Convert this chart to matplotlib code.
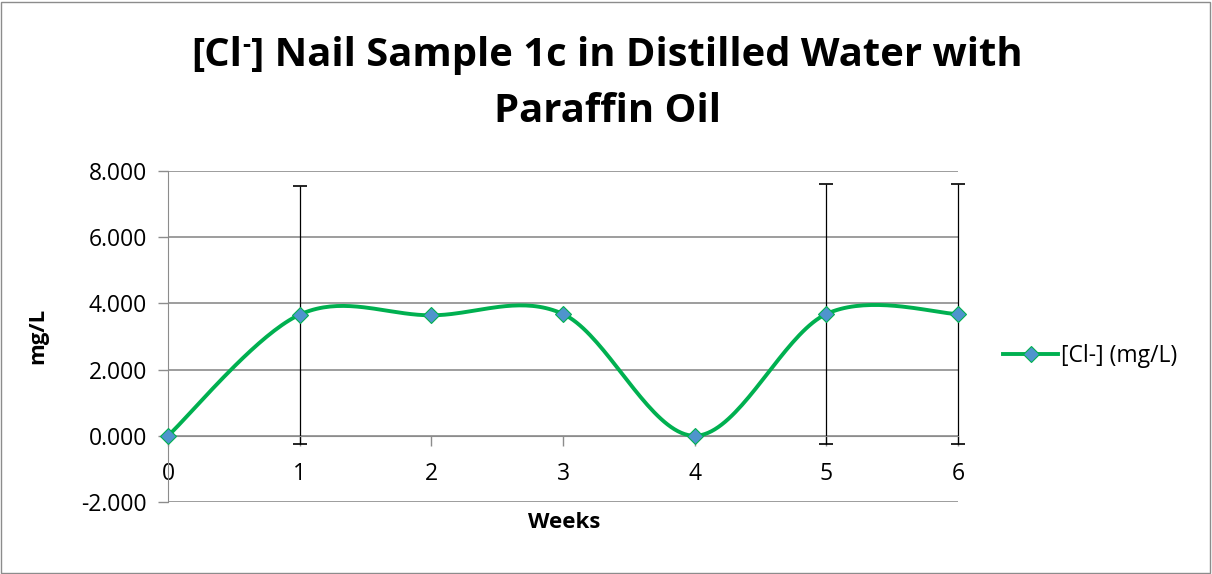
import numpy as np
import matplotlib
matplotlib.use("Agg")
import matplotlib.pyplot as plt
from matplotlib.patches import Rectangle
from matplotlib.lines import Line2D

weeks = [0, 1, 2, 3, 4, 5, 6]
cl_values = [0.0, 3.66, 3.64, 3.68, 0.0, 3.68, 3.68]
cl_errors = [0.0, 3.90, 0.0, 0.0, 0.0, 3.92, 3.92]
y_ticks = [-2, 0, 2, 4, 6, 8]
series_label = "[Cl-] (mg/L)"
title_pre = "[Cl"
title_sup = "-"
title_post = "] Nail Sample 1c in Distilled Water with"
title_line2 = "Paraffin Oil"
x_label = "Weeks"
y_label = "mg/L"

FONT = ["Open Sans", "DejaVu Sans"]
plt.rcParams["font.family"] = FONT

GREEN = "#00B050"
BLUE = "#4F94CD"
GRID = "#8C8C8C"

fig = plt.figure(figsize=(12.12, 5.74), dpi=100)
W, H = 1212, 574
ax = fig.add_axes([168 / W, 1 - 502 / H, (958 - 168) / W, (502 - 171) / H])


def smooth_curve(xs, ys, n=40):
    xs = np.asarray(xs, float)
    ys = np.asarray(ys, float)
    P = np.column_stack([xs, ys])
    out = [P[0]]
    for i in range(len(P) - 1):
        p0 = P[i - 1] if i > 0 else P[i]
        p1 = P[i]
        p2 = P[i + 1]
        p3 = P[i + 2] if i + 2 < len(P) else P[i + 1]
        c1 = p1 + (p2 - p0) / 6.0
        c2 = p2 - (p3 - p1) / 6.0
        t = np.linspace(0, 1, n)[1:, None]
        seg = ((1 - t) ** 3) * p1 + 3 * ((1 - t) ** 2) * t * c1 + 3 * (1 - t) * t ** 2 * c2 + t ** 3 * p2
        out.extend(seg)
    out = np.array(out)
    return out[:, 0], out[:, 1]


sx, sy = smooth_curve(weeks, cl_values)
ax.plot(sx, sy, color=GREEN, lw=2.8, solid_capstyle="round", zorder=3, clip_on=False)

ex = [w for w, e in zip(weeks, cl_errors) if e > 0]
ey = [v for v, e in zip(cl_values, cl_errors) if e > 0]
ee = [e for e in cl_errors if e > 0]
eb = ax.errorbar(ex, ey, yerr=ee, fmt="none", ecolor="black", elinewidth=0.9,
                 capsize=5, capthick=1.2, zorder=2)
for art in eb.lines[1] + eb.lines[2]:
    art.set_clip_on(False)

ax.plot(weeks, cl_values, linestyle="none", marker="D", markersize=8.5,
        markerfacecolor=BLUE, markeredgecolor=GREEN, markeredgewidth=0.8,
        zorder=4, clip_on=False)

ax.set_xlim(0, 6)
ax.set_ylim(-2, 8)
ax.set_yticks(y_ticks)
ax.set_yticklabels([f"{v:.3f}" for v in y_ticks])
ax.set_xticks(weeks)
ax.set_xticklabels([str(w) for w in weeks])

for s in ["top", "right"]:
    ax.spines[s].set_visible(False)
ax.spines["bottom"].set_position(("data", 0))
ax.spines["bottom"].set_color(GRID)
ax.spines["left"].set_color(GRID)
ax.tick_params(axis="both", direction="out", length=7, color=GRID, width=1,
               labelsize=16.5, labelcolor="black")
ax.tick_params(axis="x", pad=12)
ax.tick_params(axis="y", pad=8)
ax.yaxis.grid(True, color=GRID, lw=1.2)
ax.set_axisbelow(True)

fig.text(564 / W, 1 - 523 / H, x_label, ha="center", va="center",
         fontsize=16, fontweight="bold")
fig.text(38 / W, 1 - 336 / H, y_label, ha="center", va="center",
         rotation=90, fontsize=16, fontweight="bold")

# Title (line 1 made of pieces so the minus sign can be a superscript)
fs = 28
r = fig.canvas.get_renderer()


def width_of(s, size):
    t = fig.text(0, 0, s, fontsize=size, fontweight="bold")
    w = t.get_window_extent(r).width
    t.remove()
    return w


w_full = width_of(title_pre + title_sup + title_post, fs)
fs = fs * 835 / w_full
sup_fs = fs * 0.62
w_pre = width_of(title_pre, fs)
w_sup = width_of(title_sup, sup_fs)
w_post = width_of(title_post, fs)
total = w_pre + w_sup + w_post
x0 = 607 - total / 2
base1 = 1 - 66 / H
fig.text(x0 / W, base1, title_pre, ha="left", va="baseline", fontsize=fs, fontweight="bold")
fig.text((x0 + w_pre) / W, base1 + 14 / H, title_sup, ha="left", va="baseline",
         fontsize=sup_fs, fontweight="bold")
fig.text((x0 + w_pre + w_sup) / W, base1, title_post, ha="left", va="baseline",
         fontsize=fs, fontweight="bold")
fig.text(607 / W, 1 - 122 / H, title_line2, ha="center", va="baseline",
         fontsize=fs, fontweight="bold")

handle = Line2D([], [], color=GREEN, lw=2.8, marker="D", markersize=8.5,
                markerfacecolor=BLUE, markeredgecolor=GREEN, markeredgewidth=0.8)
fig.legend([handle], [series_label], loc="center left",
           bbox_to_anchor=(1003 / W, 1 - 356 / H), frameon=False,
           fontsize=16.5, handlelength=2.4, handletextpad=0.15,
           borderpad=0, borderaxespad=0)

fig.add_artist(Rectangle((1 / W, 1 / H), (W - 3) / W, (H - 3) / H,
                         transform=fig.transFigure, fill=False,
                         edgecolor="#8C8C8C", lw=1))

fig.savefig("out.png", dpi=100)
